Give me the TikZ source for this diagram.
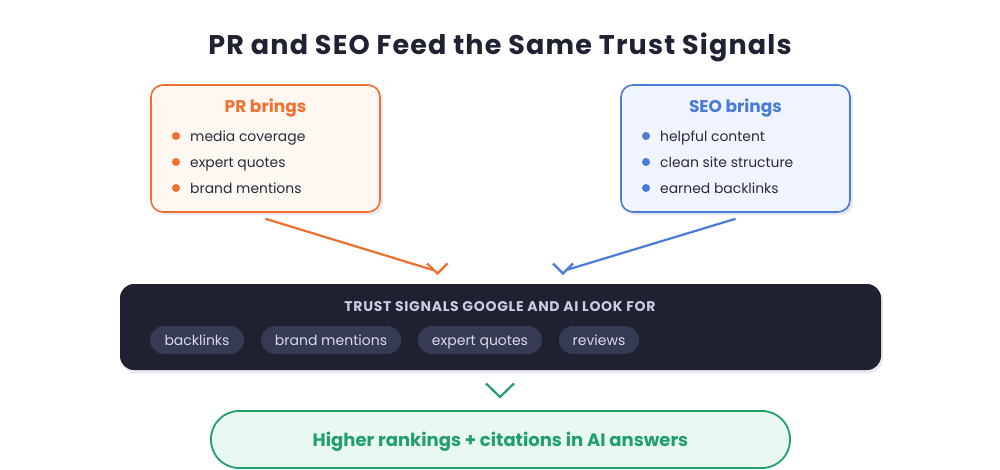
\documentclass[tikz,border=0pt]{standalone}
\usepackage{fontspec}
\setmainfont{Poppins}
\usetikzlibrary{shadows}
\definecolor{titlec}{HTML}{1F2233}
\definecolor{textc}{HTML}{2A2B3A}
\definecolor{prc}{HTML}{F07030}
\definecolor{prfill}{HTML}{FFF7F2}
\definecolor{seoc}{HTML}{4A7BD6}
\definecolor{seofill}{HTML}{F0F4FF}
\definecolor{darkc}{HTML}{1F2130}
\definecolor{chipc}{HTML}{363A52}
\definecolor{chiptext}{HTML}{D8DAE8}
\definecolor{headc}{HTML}{C9CCE0}
\definecolor{greenc}{HTML}{22A06B}
\definecolor{greenfill}{HTML}{E9F8F0}
\definecolor{shadowc}{HTML}{E8E9F2}
\tikzset{
  srcbox/.style={draw, line width=1.6pt, rounded corners=12pt, minimum width=229pt, minimum height=127pt,
    drop shadow={shadow xshift=3pt, shadow yshift=-3pt, fill=shadowc, opacity=1}},
  boxtitle/.style={font=\fontsize{17}{20}\selectfont\bfseries, text height=12.5pt, text depth=0pt},
  item/.style={anchor=west, text=textc, font=\fontsize{13.9}{17}\selectfont, inner sep=0pt,
    text height=10.3pt, text depth=0pt},
  chip/.style={fill=chipc, rounded corners=14pt, minimum height=28pt, inner xsep=0pt, text=chiptext,
    font=\fontsize{14}{16}\selectfont, text height=10.3pt, text depth=0pt},
  conn/.style={line width=2.2pt},
}
\begin{document}
\begin{tikzpicture}[x=1pt,y=-1pt]
\useasboundingbox (0,0) rectangle (1000,470);
\fill[white] (0,0) rectangle (1000,470);

\node[font=\fontsize{27}{30}\selectfont\bfseries\addfontfeature{LetterSpace=4.3}, text=titlec,
  text height=19pt, text depth=0pt] (title) at (500,45) {PR and SEO Feed the Same Trust Signals};

% PR box
\node[srcbox, draw=prc, fill=prfill] (pr) at (265.5,148.5) {};
\node[boxtitle, text=prc] (prt) at (265.5,106) {PR brings};
\foreach \t/\yy/\n in {media coverage/136/1, expert quotes/162/2, brand mentions/188/3}{
  \fill[prc] (176,\yy) circle (4pt);
  \node[item] (pri\n) at (190,\yy) {\t};
}

% SEO box
\node[srcbox, draw=seoc, fill=seofill] (seo) at (735.5,148.5) {};
\node[boxtitle, text=seoc] (seot) at (735.5,106) {SEO brings};
\foreach \t/\yy/\n in {helpful content/136/1, clean site structure/162/2, earned backlinks/188/3}{
  \fill[seoc] (646,\yy) circle (4pt);
  \node[item] (seoi\n) at (660,\yy) {\t};
}

% Trust box
\node[fill=darkc, rounded corners=14pt, minimum width=761pt, minimum height=86pt,
  drop shadow={shadow xshift=2pt, shadow yshift=-3pt, fill=shadowc, opacity=1}] (trust) at (500.5,327) {};
\node[text=headc, font=\fontsize{14}{16}\selectfont\bfseries\addfontfeature{LetterSpace=5}, text height=10pt, text depth=0pt]
  (head) at (500,306.5) {TRUST SIGNALS GOOGLE AND AI LOOK FOR};
\node[chip, minimum width=94pt] (c1) at (197,340) {backlinks};
\node[chip, minimum width=140pt] (c2) at (331,340) {brand mentions};
\node[chip, minimum width=124pt] (c3) at (480,340) {expert quotes};
\node[chip, minimum width=80pt] (c4) at (599,340) {reviews};

% connectors
\coordinate (prend) at (433,270);
\coordinate (seoend) at (568,269.5);
\draw[conn, prc] ([yshift=-6pt]pr.south) -- (prend);
\draw[conn, prc, line join=miter] (427,263.5) -- (437.5,273.5) -- (447.5,263.5);
\draw[conn, seoc] ([yshift=-6pt]seo.south) -- (seoend);
\draw[conn, seoc, line join=miter] (553,263.5) -- (563,273.5) -- (573,263.5);

% result
\node[draw=greenc, line width=1.8pt, fill=greenfill, rounded corners=28pt, minimum width=579pt, minimum height=57pt,
  text=greenc, font=\fontsize{18}{20}\selectfont\bfseries, text height=13pt, text depth=0pt] (res) at (500.5,439.5) {Higher rankings + citations in AI answers};
\draw[conn, greenc, line join=miter] (486,383.5) -- (500,397) -- (514,383.5);
\end{tikzpicture}
\end{document}
